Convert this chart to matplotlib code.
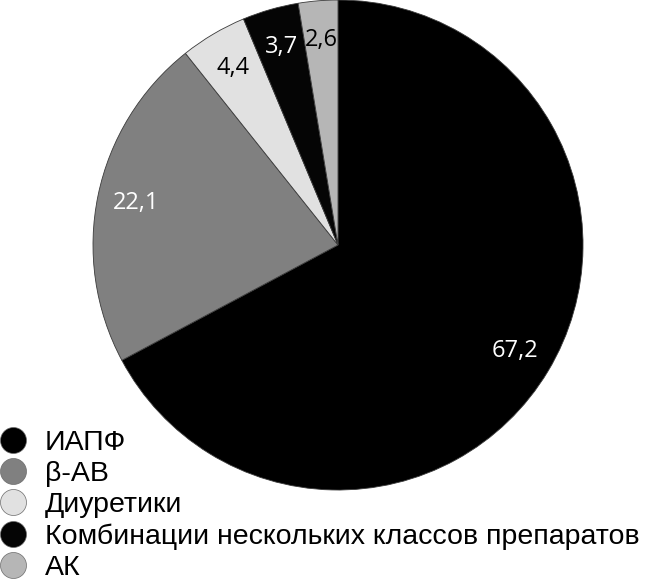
import matplotlib
matplotlib.use("Agg")
from matplotlib import pyplot as plt
from matplotlib.lines import Line2D

# shares of drug classes, %
labels = ["ИАПФ", "β-АВ", "Диуретики", "Комбинации нескольких классов препаратов", "АК"]
values = [67.2, 22.1, 4.4, 3.7, 2.6]
colors = ["#000000", "#808080", "#e1e1e1", "#050505", "#b6b6b6"]
text_colors = ["white", "white", "black", "white", "black"]

fig = plt.figure(figsize=(6.46, 5.81), dpi=100)
ax = fig.add_axes([93 / 646, 1 - 490 / 581, 490 / 646, 490 / 581])

wedges, texts, autotexts = ax.pie(
    values, colors=colors, startangle=90, counterclock=False, radius=1,
    autopct=lambda p: f"{p:.1f}".replace(".", ","), pctdistance=0.84,
    wedgeprops=dict(edgecolor="#3a3a3a", linewidth=0.6),
    textprops=dict(fontsize=17, family="Open Sans"))
for t, c in zip(autotexts, text_colors):
    t.set_color(c)
ax.set_xlim(-1, 1)
ax.set_ylim(-1, 1)
ax.set_aspect("equal")
ax.axis("off")

handles = [Line2D([], [], marker="o", linestyle="none", markersize=18.7,
                  markerfacecolor=c, markeredgecolor="#6a6a6a", markeredgewidth=0.5)
           for c in colors]
fig.legend(handles, labels, loc="lower left", bbox_to_anchor=(0, 0),
           frameon=False, borderpad=0, borderaxespad=0, handlelength=0.91,
           handletextpad=0.67, labelspacing=0.18,
           prop=dict(family="Liberation Sans", size=20.5))

plt.savefig("out.png", dpi=100)
